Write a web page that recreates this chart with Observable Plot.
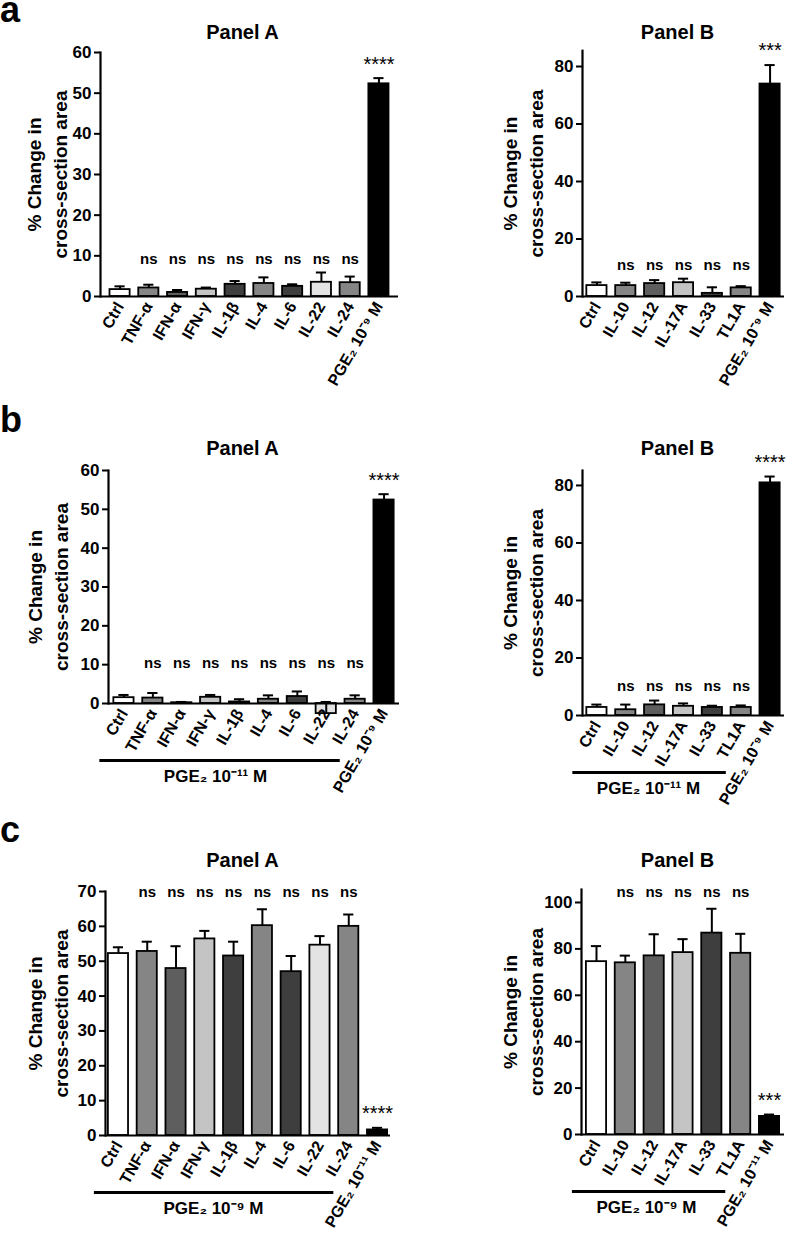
<!DOCTYPE html>
<html><head><meta charset="utf-8">
<script src="https://cdn.jsdelivr.net/npm/d3@7"></script>
<script src="https://cdn.jsdelivr.net/npm/@observablehq/plot@0.6"></script>
<style>
body{margin:0;background:#fff;}
#root{position:relative;width:787px;height:1234px;overflow:hidden;font-family:Arial,"Liberation Sans",sans-serif;background:#fff;}
.panel{position:absolute;}
.rowlab{position:absolute;font-weight:bold;font-size:36px;line-height:18px;font-family:Arial,"Liberation Sans",sans-serif;}
</style></head><body><div id="root"></div>
<script>
// ---------- categories ----------
const catsA9 = ["Ctrl","TNF-α","IFN-α","IFN-γ","IL-1β","IL-4","IL-6","IL-22","IL-24","PGE₂ 10⁻⁹ M"];
const catsA11 = ["Ctrl","TNF-α","IFN-α","IFN-γ","IL-1β","IL-4","IL-6","IL-22","IL-24","PGE₂ 10⁻¹¹ M"];
const catsB9 = ["Ctrl","IL-10","IL-12","IL-17A","IL-33","TL1A","PGE₂ 10⁻⁹ M"];
const catsB11 = ["Ctrl","IL-10","IL-12","IL-17A","IL-33","TL1A","PGE₂ 10⁻¹¹ M"];

// ---------- values (mean, SEM) ----------
const aA_mean = [1.7, 2.1, 1.0, 1.8, 3.0, 3.2, 2.5, 3.5, 3.4, 52.3];
const aA_sem  = [0.8, 0.8, 0.6, 0.4, 0.8, 1.5, 0.5, 2.4, 1.5, 1.4];
const aB_mean = [3.8, 3.8, 4.5, 4.8, 1.1, 3.0, 73.9];
const aB_sem  = [1.1, 1.0, 1.2, 1.4, 2.1, 0.6, 6.6];
const bA_mean = [1.5, 1.4, 0.2, 1.6, 0.4, 1.1, 1.8, -2.6, 1.1, 52.4];
const bA_sem  = [0.7, 1.3, 0.2, 0.6, 0.7, 1.0, 1.3, 3.0, 1.0, 1.5];
const bB_mean = [2.8, 2.0, 3.7, 3.2, 2.8, 2.8, 80.9];
const bB_sem  = [1.0, 1.8, 1.5, 1.0, 0.6, 0.7, 2.2];
const cA_mean = [52.2, 52.8, 47.9, 56.4, 51.5, 60.2, 47.0, 54.6, 60.0, 1.6];
const cA_sem  = [1.8, 2.8, 6.4, 2.3, 4.1, 4.7, 4.5, 2.6, 3.4, 0.6];
const cB_mean = [74.5, 74.0, 77.0, 78.4, 86.8, 78.1, 7.8];
const cB_sem  = [6.7, 3.1, 9.3, 5.8, 10.5, 8.4, 0.8];

// ---------- significance labels ----------
const annA4 = ["", "ns", "ns", "ns", "ns", "ns", "ns", "ns", "ns", "****"];
const annB3 = ["", "ns", "ns", "ns", "ns", "ns", "***"];
const annB4 = ["", "ns", "ns", "ns", "ns", "ns", "****"];

// ---------- tick values ----------
const ticks60 = [0, 10, 20, 30, 40, 50, 60];
const ticks70 = [0, 10, 20, 30, 40, 50, 60, 70];
const ticks80 = [0, 20, 40, 60, 80];
const ticks100 = [0, 20, 40, 60, 80, 100];

// ---------- texts ----------
const rowLabels = ["a", "b", "c"];
const yTitle = "% Change in\ncross-section area";
const group11 = "PGE₂ 10⁻¹¹ M";
const group9 = "PGE₂ 10⁻⁹ M";

// ---------- styles ----------
const fillsA = ["#ffffff","#858585","#5e5e5e","#c4c4c4","#3e3e3e","#858585","#3e3e3e","#e3e3e3","#858585","#000000"];
const fillsB = ["#ffffff","#858585","#5e5e5e","#c4c4c4","#3e3e3e","#858585","#000000"];
const FONT = 'Arial, "Liberation Sans", sans-serif';

// ---------- layout ----------
const panels = [
  {title:"Panel A", cats:catsA9, mean:aA_mean, sem:aA_sem, ann:annA4, fills:fillsA, ticks:ticks60, yMax:60,
   left:0, top:0, w:400, h:400, m:[52,2,104,100], po:0.33, nsY:9.2, titleX:242, titleY:32, yTitleX:45, group:null},
  {title:"Panel B", cats:catsB9, mean:aB_mean, sem:aB_sem, ann:annB3, fills:fillsB, ticks:ticks80, yMax:85.5,
   left:390, top:0, w:397, h:400, m:[50.2,3,104,192], po:0.15, nsY:10.8, titleX:287, titleY:32, yTitleX:131, group:null},
  {title:"Panel A", cats:catsA9, mean:bA_mean, sem:bA_sem, ann:annA4, fills:fillsA, ticks:ticks60, yMax:60,
   left:0, top:400, w:400, h:410, m:[70,1,107,108], po:0.185, nsY:10.5, titleX:242, titleY:48, yTitleX:46, group:group11, groupX:215},
  {title:"Panel B", cats:catsB9, mean:bB_mean, sem:bB_sem, ann:annB4, fills:fillsB, ticks:ticks80, yMax:85.2,
   left:390, top:400, w:397, h:410, m:[70,3,95,192], po:0.15, nsY:10.1, titleX:287, titleY:48, yTitleX:131, group:group11, groupX:258},
  {title:"Panel A", cats:catsA11, mean:cA_mean, sem:cA_sem, ann:annA4, fills:fillsA, ticks:ticks70, yMax:70,
   left:0, top:810, w:400, h:424, m:[81,10,99,105], po:0.1, nsY:69.8, titleX:242, titleY:50, yTitleX:46, group:group9, groupX:213},
  {title:"Panel B", cats:catsB11, mean:cB_mean, sem:cB_sem, ann:annB3, fills:fillsB, ticks:ticks100, yMax:105.6,
   left:390, top:810, w:397, h:424, m:[79,3,100,191], po:0.17, nsY:104.4, titleX:287, titleY:50, yTitleX:131, group:group9, groupX:256}
];

const root = document.getElementById("root");

function makePanel(p) {
  const [mt, mr, mb, ml] = p.m;
  const data = p.cats.map((c, i) => ({cat: c, mean: p.mean[i], top: p.mean[i] + p.sem[i], ann: p.ann[i]}));
  const frameCx = ml + (p.w - ml - mr) / 2;
  const marks = [
    Plot.barY(data, {x: "cat", y1: 0, y2: "mean", fill: "cat", stroke: "black", strokeWidth: 1.8}),
    Plot.ruleX(data, {x: "cat", y1: "mean", y2: "top", stroke: "black", strokeWidth: 2}),
    Plot.tickY(data, {x: "cat", y: "top", stroke: "black", strokeWidth: 2, insetLeft: 5, insetRight: 5}),
    Plot.ruleY([0], {stroke: "black", strokeWidth: 2.2}),
    Plot.frame({anchor: "left", stroke: "black", strokeWidth: 2.2}),
    Plot.axisY({ticks: p.ticks, tickSize: 6, tickPadding: 3, strokeWidth: 2, fontSize: 17, fontWeight: "bold", label: null, fill: "black"}),
    Plot.axisX({tickSize: 0, tickPadding: 7, tickRotate: -60, fontSize: 16, fontWeight: "bold", label: null, fill: "black"}),
    Plot.text(data.filter(d => d.ann === "ns"), {x: "cat", y: p.nsY, text: "ann", fontSize: 15, fontWeight: "bold", fill: "black"}),
    Plot.text(data.filter(d => d.ann.startsWith("*")), {x: "cat", y: "top", text: "ann", dy: -14, fontSize: 20, fontWeight: "normal", fill: "black"}),
    Plot.text([p.title], {frameAnchor: "top", dx: p.titleX - frameCx, dy: p.titleY - mt, lineAnchor: "middle", fontSize: 20, fontWeight: "bold", fill: "black"}),
    Plot.text([yTitle], {frameAnchor: "left", rotate: -90, dx: p.yTitleX - ml, textAnchor: "middle", lineAnchor: "middle", lineHeight: 1.35, fontSize: 19, fontWeight: "bold", fill: "black"})
  ];
  if (p.group) {
    const n = p.cats.length;
    marks.push(Plot.ruleY([{a: p.cats[0], b: p.cats[n - 2]}], {x1: "a", x2: "b", y: 0, dy: 57, stroke: "black", strokeWidth: 3, insetLeft: -14, insetRight: 25}));
    marks.push(Plot.text([p.group], {frameAnchor: "bottom", dx: p.groupX - frameCx, dy: 73, lineAnchor: "middle", fontSize: 17, fontWeight: "bold", fill: "black"}));
  }
  const chart = Plot.plot({
    width: p.w, height: p.h,
    marginTop: mt, marginRight: mr, marginBottom: mb, marginLeft: ml,
    x: {domain: p.cats, paddingInner: 0.3, paddingOuter: p.po, align: 0.5, round: false, axis: null},
    y: {domain: [0, p.yMax], nice: false, axis: null},
    color: {domain: p.cats, range: p.fills},
    style: {fontFamily: FONT, fontWeight: "bold", background: "transparent", overflow: "visible", color: "black"},
    marks
  });
  const div = document.createElement("div");
  div.className = "panel";
  div.style.left = p.left + "px";
  div.style.top = p.top + "px";
  div.style.width = p.w + "px";
  div.style.height = p.h + "px";
  div.appendChild(chart);
  root.appendChild(div);
}
panels.forEach(makePanel);

const rowTops = [1, 411, 821];
rowLabels.forEach((t, i) => {
  const d = document.createElement("div");
  d.className = "rowlab";
  d.style.left = "0px";
  d.style.top = rowTops[i] + "px";
  d.textContent = t;
  root.appendChild(d);
});
</script>
</body></html>
